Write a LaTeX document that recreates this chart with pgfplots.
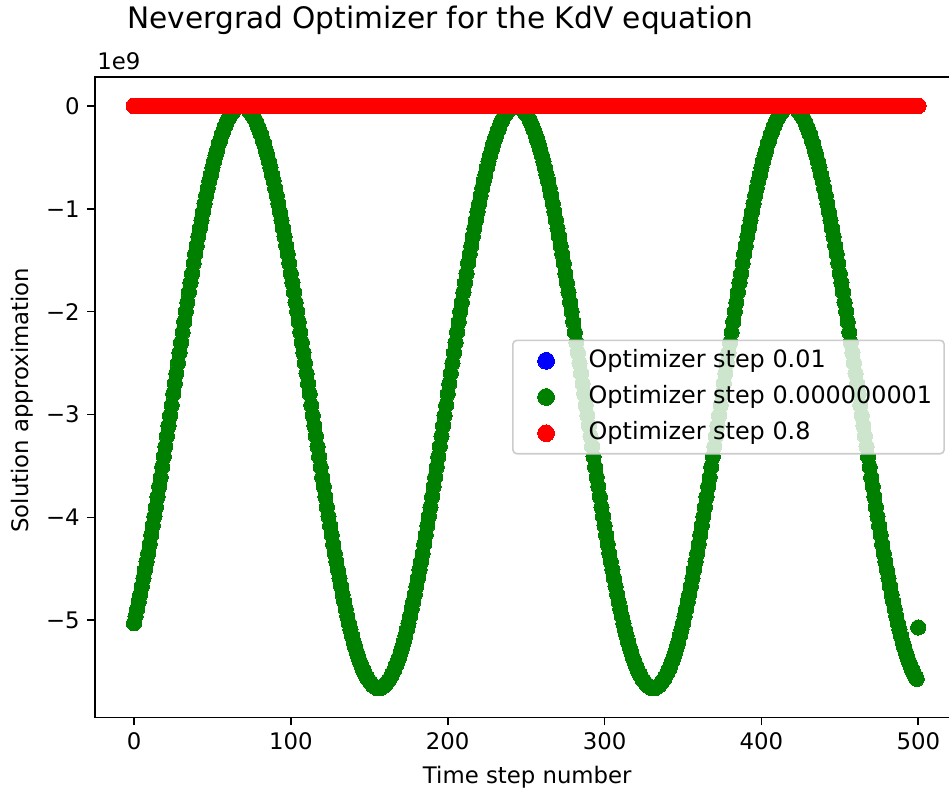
\documentclass[border=0pt]{standalone}
\usepackage{fontspec}
\setmainfont{DejaVu Sans}
\usepackage{pgfplots}
\usepackage{pgfplotstable}
\pgfplotsset{compat=1.18}

\definecolor{mplblue}{RGB}{0,0,255}
\definecolor{mplgreen}{RGB}{0,128,0}
\definecolor{mplred}{RGB}{255,0,0}

% steps 0.01 and 0.8 stay at zero (in units of 1e9)
\pgfplotstableread[row sep=\\]{x y\\%
0 0\\1 0\\2 0\\3 0\\4 0\\5 0\\6 0\\7 0\\8 0\\9 0\\10 0\\11 0\\12 0\\13 0\\14 0\\15 0\\16 0\\17 0\\18 0\\19 0\\%
20 0\\21 0\\22 0\\23 0\\24 0\\25 0\\26 0\\27 0\\28 0\\29 0\\30 0\\31 0\\32 0\\33 0\\34 0\\35 0\\36 0\\37 0\\38 0\\39 0\\%
40 0\\41 0\\42 0\\43 0\\44 0\\45 0\\46 0\\47 0\\48 0\\49 0\\50 0\\51 0\\52 0\\53 0\\54 0\\55 0\\56 0\\57 0\\58 0\\59 0\\%
60 0\\61 0\\62 0\\63 0\\64 0\\65 0\\66 0\\67 0\\68 0\\69 0\\70 0\\71 0\\72 0\\73 0\\74 0\\75 0\\76 0\\77 0\\78 0\\79 0\\%
80 0\\81 0\\82 0\\83 0\\84 0\\85 0\\86 0\\87 0\\88 0\\89 0\\90 0\\91 0\\92 0\\93 0\\94 0\\95 0\\96 0\\97 0\\98 0\\99 0\\%
100 0\\101 0\\102 0\\103 0\\104 0\\105 0\\106 0\\107 0\\108 0\\109 0\\110 0\\111 0\\112 0\\113 0\\114 0\\115 0\\116 0\\117 0\\118 0\\119 0\\%
120 0\\121 0\\122 0\\123 0\\124 0\\125 0\\126 0\\127 0\\128 0\\129 0\\130 0\\131 0\\132 0\\133 0\\134 0\\135 0\\136 0\\137 0\\138 0\\139 0\\%
140 0\\141 0\\142 0\\143 0\\144 0\\145 0\\146 0\\147 0\\148 0\\149 0\\150 0\\151 0\\152 0\\153 0\\154 0\\155 0\\156 0\\157 0\\158 0\\159 0\\%
160 0\\161 0\\162 0\\163 0\\164 0\\165 0\\166 0\\167 0\\168 0\\169 0\\170 0\\171 0\\172 0\\173 0\\174 0\\175 0\\176 0\\177 0\\178 0\\179 0\\%
180 0\\181 0\\182 0\\183 0\\184 0\\185 0\\186 0\\187 0\\188 0\\189 0\\190 0\\191 0\\192 0\\193 0\\194 0\\195 0\\196 0\\197 0\\198 0\\199 0\\%
200 0\\201 0\\202 0\\203 0\\204 0\\205 0\\206 0\\207 0\\208 0\\209 0\\210 0\\211 0\\212 0\\213 0\\214 0\\215 0\\216 0\\217 0\\218 0\\219 0\\%
220 0\\221 0\\222 0\\223 0\\224 0\\225 0\\226 0\\227 0\\228 0\\229 0\\230 0\\231 0\\232 0\\233 0\\234 0\\235 0\\236 0\\237 0\\238 0\\239 0\\%
240 0\\241 0\\242 0\\243 0\\244 0\\245 0\\246 0\\247 0\\248 0\\249 0\\250 0\\251 0\\252 0\\253 0\\254 0\\255 0\\256 0\\257 0\\258 0\\259 0\\%
260 0\\261 0\\262 0\\263 0\\264 0\\265 0\\266 0\\267 0\\268 0\\269 0\\270 0\\271 0\\272 0\\273 0\\274 0\\275 0\\276 0\\277 0\\278 0\\279 0\\%
280 0\\281 0\\282 0\\283 0\\284 0\\285 0\\286 0\\287 0\\288 0\\289 0\\290 0\\291 0\\292 0\\293 0\\294 0\\295 0\\296 0\\297 0\\298 0\\299 0\\%
300 0\\301 0\\302 0\\303 0\\304 0\\305 0\\306 0\\307 0\\308 0\\309 0\\310 0\\311 0\\312 0\\313 0\\314 0\\315 0\\316 0\\317 0\\318 0\\319 0\\%
320 0\\321 0\\322 0\\323 0\\324 0\\325 0\\326 0\\327 0\\328 0\\329 0\\330 0\\331 0\\332 0\\333 0\\334 0\\335 0\\336 0\\337 0\\338 0\\339 0\\%
340 0\\341 0\\342 0\\343 0\\344 0\\345 0\\346 0\\347 0\\348 0\\349 0\\350 0\\351 0\\352 0\\353 0\\354 0\\355 0\\356 0\\357 0\\358 0\\359 0\\%
360 0\\361 0\\362 0\\363 0\\364 0\\365 0\\366 0\\367 0\\368 0\\369 0\\370 0\\371 0\\372 0\\373 0\\374 0\\375 0\\376 0\\377 0\\378 0\\379 0\\%
380 0\\381 0\\382 0\\383 0\\384 0\\385 0\\386 0\\387 0\\388 0\\389 0\\390 0\\391 0\\392 0\\393 0\\394 0\\395 0\\396 0\\397 0\\398 0\\399 0\\%
400 0\\401 0\\402 0\\403 0\\404 0\\405 0\\406 0\\407 0\\408 0\\409 0\\410 0\\411 0\\412 0\\413 0\\414 0\\415 0\\416 0\\417 0\\418 0\\419 0\\%
420 0\\421 0\\422 0\\423 0\\424 0\\425 0\\426 0\\427 0\\428 0\\429 0\\430 0\\431 0\\432 0\\433 0\\434 0\\435 0\\436 0\\437 0\\438 0\\439 0\\%
440 0\\441 0\\442 0\\443 0\\444 0\\445 0\\446 0\\447 0\\448 0\\449 0\\450 0\\451 0\\452 0\\453 0\\454 0\\455 0\\456 0\\457 0\\458 0\\459 0\\%
460 0\\461 0\\462 0\\463 0\\464 0\\465 0\\466 0\\467 0\\468 0\\469 0\\470 0\\471 0\\472 0\\473 0\\474 0\\475 0\\476 0\\477 0\\478 0\\479 0\\%
480 0\\481 0\\482 0\\483 0\\484 0\\485 0\\486 0\\487 0\\488 0\\489 0\\490 0\\491 0\\492 0\\493 0\\494 0\\495 0\\496 0\\497 0\\498 0\\499 0\\%
500 0\\%
}\flatdata

\begin{document}
\begin{tikzpicture}
\begin{axis}[
    scale only axis,
    width=431.35pt, height=320.3pt,
    xmin=-25, xmax=525, ymin=-5.943, ymax=0.283,
    axis line style={line width=0.8pt},
    tick align=outside,
    xtick pos=left, ytick pos=left,
    major tick length=4pt,
    every tick/.style={black, line width=0.8pt},
    xtick={0,100,200,300,400,500},
    xticklabels={0,100,200,300,400,500},
    ytick={-5,-4,-3,-2,-1,0},
    yticklabels={−5,−4,−3,−2,−1,0},
    tick label style={font=\fontsize{11.4}{13}\selectfont},
    label style={font=\fontsize{11.4}{13}\selectfont},
    xlabel={Time step number},
    ylabel={Solution approximation},
    xlabel style={at={(axis description cs:0.5013,-0.0935)}, anchor=center},
    ylabel style={at={(axis description cs:-0.0844,0.495)}, anchor=center},
    legend style={
        at={(0.9855,0.5)}, anchor=east,
        draw=black!20, line width=0.8pt, rounded corners=2pt,
        fill=white, fill opacity=0.8, text opacity=1,
        inner xsep=2.2pt, inner ysep=2.3pt,
        row sep=2.2pt, column sep=13.3pt,
        font=\fontsize{11.95}{14}\selectfont,
        nodes={inner xsep=3.8pt, inner ysep=2pt, text height=9.1pt, text depth=2.8pt},
        cells={anchor=west},
    },
    legend image code/.code={%
        \path (-14.0pt,0pt);
        \draw[#1, mark size=4.2pt, fill opacity=1, draw opacity=1] plot coordinates {(0pt,0pt)};
    },
]
\addplot[only marks, mark=*, mark size=3.9pt, color=mplblue, mark options={solid, line width=0pt}]
    table {\flatdata};
\addlegendentry{Optimizer step 0.01}

\addplot[only marks, mark=*, mark size=3.8pt, color=mplgreen, mark options={solid, line width=0pt}]
coordinates {
(0,-5.03)(1,-4.96)(2,-4.89)(3,-4.82)(4,-4.75)(5,-4.67)(6,-4.59)(7,-4.51)(8,-4.43)(9,-4.35)
(10,-4.26)(11,-4.17)(12,-4.08)(13,-3.99)(14,-3.90)(15,-3.80)(16,-3.70)(17,-3.61)(18,-3.51)(19,-3.41)
(20,-3.31)(21,-3.21)(22,-3.11)(23,-3.01)(24,-2.91)(25,-2.80)(26,-2.70)(27,-2.60)(28,-2.50)(29,-2.40)
(30,-2.30)(31,-2.20)(32,-2.10)(33,-2.00)(34,-1.91)(35,-1.81)(36,-1.72)(37,-1.63)(38,-1.53)(39,-1.44)
(40,-1.36)(41,-1.27)(42,-1.19)(43,-1.11)(44,-1.03)(45,-0.95)(46,-0.87)(47,-0.80)(48,-0.73)(49,-0.67)
(50,-0.60)(51,-0.54)(52,-0.48)(53,-0.43)(54,-0.37)(55,-0.33)(56,-0.28)(57,-0.24)(58,-0.20)(59,-0.16)
(60,-0.13)(61,-0.10)(62,-0.08)(63,-0.06)(64,-0.04)(65,-0.02)(66,-0.01)(67,-0.00)(68,-0.00)
(69,-0.00)(70,-0.00)(71,-0.01)(72,-0.02)(73,-0.04)(74,-0.06)(75,-0.08)(76,-0.10)(77,-0.13)(78,-0.16)
(79,-0.20)(80,-0.24)(81,-0.28)(82,-0.33)(83,-0.37)(84,-0.43)(85,-0.48)(86,-0.54)(87,-0.60)(88,-0.67)
(89,-0.73)(90,-0.80)(91,-0.87)(92,-0.95)(93,-1.03)(94,-1.11)(95,-1.19)(96,-1.27)(97,-1.36)(98,-1.44)
(99,-1.53)(100,-1.63)(101,-1.72)(102,-1.81)(103,-1.91)(104,-2.00)(105,-2.10)(106,-2.20)(107,-2.30)(108,-2.40)
(109,-2.50)(110,-2.60)(111,-2.70)(112,-2.80)(113,-2.91)(114,-3.01)(115,-3.11)(116,-3.21)(117,-3.31)(118,-3.41)
(119,-3.51)(120,-3.61)(121,-3.70)(122,-3.80)(123,-3.90)(124,-3.99)(125,-4.08)(126,-4.17)(127,-4.26)(128,-4.35)
(129,-4.43)(130,-4.51)(131,-4.59)(132,-4.67)(133,-4.75)(134,-4.82)(135,-4.89)(136,-4.96)(137,-5.03)(138,-5.09)
(139,-5.15)(140,-5.21)(141,-5.26)(142,-5.31)(143,-5.36)(144,-5.40)(145,-5.44)(146,-5.48)(147,-5.51)(148,-5.54)
(149,-5.57)(150,-5.59)(151,-5.61)(152,-5.63)(153,-5.64)(154,-5.65)(155,-5.66)(156,-5.66)
(157,-5.66)(158,-5.65)(159,-5.64)(160,-5.63)(161,-5.61)(162,-5.59)(163,-5.57)(164,-5.54)(165,-5.51)(166,-5.48)
(167,-5.44)(168,-5.40)(169,-5.36)(170,-5.31)(171,-5.26)(172,-5.21)(173,-5.15)(174,-5.09)(175,-5.03)(176,-4.96)
(177,-4.89)(178,-4.82)(179,-4.75)(180,-4.67)(181,-4.59)(182,-4.51)(183,-4.43)(184,-4.35)(185,-4.26)(186,-4.17)
(187,-4.08)(188,-3.99)(189,-3.90)(190,-3.80)(191,-3.70)(192,-3.61)(193,-3.51)(194,-3.41)(195,-3.31)(196,-3.21)
(197,-3.11)(198,-3.01)(199,-2.91)(200,-2.80)(201,-2.70)(202,-2.60)(203,-2.50)(204,-2.40)(205,-2.30)(206,-2.20)
(207,-2.10)(208,-2.00)(209,-1.91)(210,-1.81)(211,-1.72)(212,-1.63)(213,-1.53)(214,-1.44)(215,-1.36)(216,-1.27)
(217,-1.19)(218,-1.11)(219,-1.03)(220,-0.95)(221,-0.87)(222,-0.80)(223,-0.73)(224,-0.67)(225,-0.60)(226,-0.54)
(227,-0.48)(228,-0.43)(229,-0.37)(230,-0.33)(231,-0.28)(232,-0.24)(233,-0.20)(234,-0.16)(235,-0.13)(236,-0.10)
(237,-0.08)(238,-0.06)(239,-0.04)(240,-0.02)(241,-0.01)(242,-0.00)(243,-0.00)
(244,-0.00)(245,-0.00)(246,-0.01)(247,-0.02)(248,-0.04)(249,-0.06)(250,-0.08)(251,-0.10)(252,-0.13)(253,-0.16)
(254,-0.20)(255,-0.24)(256,-0.28)(257,-0.33)(258,-0.37)(259,-0.43)(260,-0.48)(261,-0.54)(262,-0.60)(263,-0.67)
(264,-0.73)(265,-0.80)(266,-0.87)(267,-0.95)(268,-1.03)(269,-1.11)(270,-1.19)(271,-1.27)(272,-1.36)(273,-1.44)
(274,-1.53)(275,-1.63)(276,-1.72)(277,-1.81)(278,-1.91)(279,-2.00)(280,-2.10)(281,-2.20)(282,-2.30)(283,-2.40)
(284,-2.50)(285,-2.60)(286,-2.70)(287,-2.80)(288,-2.91)(289,-3.01)(290,-3.11)(291,-3.21)(292,-3.31)(293,-3.41)
(294,-3.51)(295,-3.61)(296,-3.70)(297,-3.80)(298,-3.90)(299,-3.99)(300,-4.08)(301,-4.17)(302,-4.26)(303,-4.35)
(304,-4.43)(305,-4.51)(306,-4.59)(307,-4.67)(308,-4.75)(309,-4.82)(310,-4.89)(311,-4.96)(312,-5.03)(313,-5.09)
(314,-5.15)(315,-5.21)(316,-5.26)(317,-5.31)(318,-5.36)(319,-5.40)(320,-5.44)(321,-5.48)(322,-5.51)(323,-5.54)
(324,-5.57)(325,-5.59)(326,-5.61)(327,-5.63)(328,-5.64)(329,-5.65)(330,-5.66)(331,-5.66)
(332,-5.66)(333,-5.65)(334,-5.64)(335,-5.63)(336,-5.61)(337,-5.59)(338,-5.57)(339,-5.54)(340,-5.51)(341,-5.48)
(342,-5.44)(343,-5.40)(344,-5.36)(345,-5.31)(346,-5.26)(347,-5.21)(348,-5.15)(349,-5.09)(350,-5.03)(351,-4.96)
(352,-4.89)(353,-4.82)(354,-4.75)(355,-4.67)(356,-4.59)(357,-4.51)(358,-4.43)(359,-4.35)(360,-4.26)(361,-4.17)
(362,-4.08)(363,-3.99)(364,-3.90)(365,-3.80)(366,-3.70)(367,-3.61)(368,-3.51)(369,-3.41)(370,-3.31)(371,-3.21)
(372,-3.11)(373,-3.01)(374,-2.91)(375,-2.80)(376,-2.70)(377,-2.60)(378,-2.50)(379,-2.40)(380,-2.30)(381,-2.20)
(382,-2.10)(383,-2.00)(384,-1.91)(385,-1.81)(386,-1.72)(387,-1.63)(388,-1.53)(389,-1.44)(390,-1.36)(391,-1.27)
(392,-1.19)(393,-1.11)(394,-1.03)(395,-0.95)(396,-0.87)(397,-0.80)(398,-0.73)(399,-0.67)(400,-0.60)(401,-0.54)
(402,-0.48)(403,-0.43)(404,-0.37)(405,-0.33)(406,-0.28)(407,-0.24)(408,-0.20)(409,-0.16)(410,-0.13)(411,-0.10)
(412,-0.08)(413,-0.06)(414,-0.04)(415,-0.02)(416,-0.01)(417,-0.00)(418,-0.00)
(419,-0.00)(420,-0.00)(421,-0.01)(422,-0.02)(423,-0.04)(424,-0.06)(425,-0.08)(426,-0.10)(427,-0.13)(428,-0.16)
(429,-0.20)(430,-0.24)(431,-0.28)(432,-0.33)(433,-0.37)(434,-0.43)(435,-0.48)(436,-0.54)(437,-0.60)(438,-0.67)
(439,-0.73)(440,-0.80)(441,-0.87)(442,-0.95)(443,-1.03)(444,-1.11)(445,-1.19)(446,-1.27)(447,-1.36)(448,-1.44)
(449,-1.53)(450,-1.63)(451,-1.72)(452,-1.81)(453,-1.91)(454,-2.00)(455,-2.10)(456,-2.20)(457,-2.30)(458,-2.40)
(459,-2.50)(460,-2.60)(461,-2.70)(462,-2.80)(463,-2.91)(464,-3.01)(465,-3.11)(466,-3.21)(467,-3.31)(468,-3.41)
(469,-3.51)(470,-3.61)(471,-3.70)(472,-3.80)(473,-3.90)(474,-3.99)(475,-4.08)(476,-4.17)(477,-4.26)(478,-4.35)
(479,-4.43)(480,-4.51)(481,-4.59)(482,-4.67)(483,-4.75)(484,-4.82)(485,-4.89)(486,-4.96)(487,-5.03)(488,-5.09)
(489,-5.15)(490,-5.21)(491,-5.26)(492,-5.31)(493,-5.36)(494,-5.40)(495,-5.44)(496,-5.48)(497,-5.51)(498,-5.54)
(499,-5.57)(500,-5.07)
};
\addlegendentry{Optimizer step 0.000000001}

\addplot[only marks, mark=*, mark size=3.9pt, color=mplred, mark options={solid, line width=0pt}]
    table {\flatdata};
\addlegendentry{Optimizer step 0.8}
\end{axis}

% title and the offset text, placed from the axis corner
\node[anchor=base, font=\fontsize{14.8}{17}\selectfont, inner sep=0pt]
    at ([shift={(172.85pt,344.15pt)}]current axis.south west)
    {Nevergrad Optimizer for the KdV equation};
\node[anchor=base west, font=\fontsize{11.4}{13}\selectfont, inner sep=0pt]
    at ([shift={(1.1pt,323.65pt)}]current axis.south west) {1e9};

% the reference is cut just short of the right spine
\pgfresetboundingbox
\path[use as bounding box]
    ([shift={(-47.4pt,-40.85pt)}]current axis.south west) rectangle
    ([shift={(427.1pt,358.65pt)}]current axis.south west);
\end{tikzpicture}
\end{document}
